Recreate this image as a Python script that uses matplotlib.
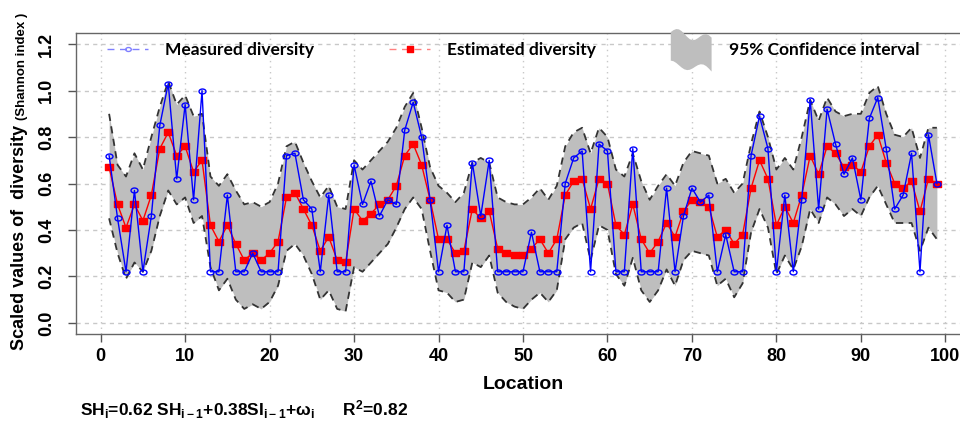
import matplotlib
matplotlib.use("Agg")
import matplotlib.pyplot as plt
import numpy as np
from matplotlib import font_manager
from matplotlib.lines import Line2D
from matplotlib.patches import Patch, Polygon
from matplotlib.path import Path
from matplotlib.transforms import Affine2D
from matplotlib.legend_handler import HandlerPatch

location = list(range(1, 100))

measured = [
    0.72, 0.45, 0.22, 0.57, 0.22, 0.46, 0.85, 1.03, 0.62, 0.94,
    0.53, 1.00, 0.22, 0.22, 0.55, 0.22, 0.22, 0.30, 0.22, 0.22,
    0.22, 0.72, 0.73, 0.53, 0.49, 0.22, 0.55, 0.22, 0.22, 0.68,
    0.51, 0.61, 0.46, 0.53, 0.51, 0.83, 0.95, 0.80, 0.53, 0.22,
    0.42, 0.22, 0.22, 0.69, 0.46, 0.70, 0.22, 0.22, 0.22, 0.22,
    0.39, 0.22, 0.22, 0.22, 0.60, 0.71, 0.74, 0.22, 0.77, 0.74,
    0.22, 0.22, 0.75, 0.22, 0.22, 0.22, 0.58, 0.22, 0.46, 0.58,
    0.52, 0.55, 0.22, 0.38, 0.22, 0.22, 0.72, 0.89, 0.75, 0.22,
    0.55, 0.22, 0.53, 0.96, 0.49, 0.92, 0.77, 0.64, 0.71, 0.53,
    0.88, 0.97, 0.75, 0.49, 0.55, 0.73, 0.22, 0.81, 0.60,
]

estimated = [
    0.67, 0.51, 0.41, 0.51, 0.44, 0.55, 0.75, 0.82, 0.72, 0.76,
    0.65, 0.70, 0.42, 0.35, 0.42, 0.34, 0.27, 0.30, 0.27, 0.30,
    0.35, 0.54, 0.56, 0.49, 0.42, 0.31, 0.37, 0.27, 0.26, 0.49,
    0.44, 0.47, 0.51, 0.53, 0.59, 0.72, 0.77, 0.68, 0.53, 0.36,
    0.36, 0.30, 0.31, 0.49, 0.45, 0.48, 0.32, 0.30, 0.29, 0.29,
    0.32, 0.36, 0.30, 0.36, 0.55, 0.61, 0.62, 0.49, 0.62, 0.60,
    0.42, 0.38, 0.51, 0.36, 0.30, 0.35, 0.43, 0.37, 0.48, 0.53,
    0.52, 0.50, 0.37, 0.40, 0.34, 0.38, 0.58, 0.70, 0.62, 0.42,
    0.50, 0.43, 0.55, 0.72, 0.64, 0.76, 0.73, 0.67, 0.68, 0.65,
    0.76, 0.81, 0.69, 0.60, 0.58, 0.61, 0.48, 0.62, 0.60,
]

ci_upper = [
    0.90, 0.68, 0.63, 0.73, 0.66, 0.80, 0.93, 1.04, 0.94, 0.98,
    0.89, 0.90, 0.63, 0.59, 0.64, 0.57, 0.51, 0.52, 0.50, 0.52,
    0.60, 0.76, 0.78, 0.69, 0.61, 0.54, 0.59, 0.50, 0.49, 0.70,
    0.66, 0.70, 0.74, 0.78, 0.84, 0.93, 0.99, 0.84, 0.67, 0.59,
    0.56, 0.52, 0.56, 0.69, 0.71, 0.69, 0.54, 0.52, 0.51, 0.51,
    0.54, 0.58, 0.53, 0.59, 0.76, 0.82, 0.84, 0.73, 0.84, 0.80,
    0.66, 0.63, 0.73, 0.61, 0.53, 0.59, 0.64, 0.59, 0.69, 0.74,
    0.73, 0.72, 0.60, 0.62, 0.56, 0.60, 0.77, 0.91, 0.80, 0.66,
    0.71, 0.66, 0.80, 0.96, 0.87, 0.97, 0.91, 0.89, 0.90, 0.90,
    0.99, 1.02, 0.90, 0.81, 0.80, 0.84, 0.71, 0.84, 0.84,
]

ci_lower = [
    0.45, 0.30, 0.19, 0.26, 0.22, 0.31, 0.46, 0.57, 0.51, 0.54,
    0.43, 0.46, 0.24, 0.14, 0.19, 0.10, 0.06, 0.08, 0.06, 0.09,
    0.16, 0.31, 0.34, 0.29, 0.21, 0.10, 0.14, 0.06, 0.05, 0.24,
    0.22, 0.26, 0.30, 0.34, 0.41, 0.49, 0.54, 0.49, 0.31, 0.14,
    0.13, 0.09, 0.10, 0.26, 0.24, 0.29, 0.13, 0.09, 0.07, 0.06,
    0.10, 0.13, 0.09, 0.14, 0.36, 0.41, 0.43, 0.27, 0.42, 0.40,
    0.21, 0.16, 0.28, 0.14, 0.09, 0.14, 0.23, 0.16, 0.27, 0.31,
    0.30, 0.29, 0.16, 0.19, 0.11, 0.17, 0.39, 0.49, 0.41, 0.21,
    0.29, 0.23, 0.33, 0.49, 0.43, 0.54, 0.51, 0.46, 0.49, 0.46,
    0.54, 0.59, 0.51, 0.43, 0.43, 0.43, 0.31, 0.41, 0.36,
]

x_ticks = list(range(0, 101, 10))
y_ticks = [0.0, 0.2, 0.4, 0.6, 0.8, 1.0, 1.2]

names = {f.name for f in font_manager.fontManager.ttflist}
NARROW = "Liberation Sans Narrow" if "Liberation Sans Narrow" in names else "Liberation Sans"
LEGEND_FONT = "Lato" if "Lato" in names else "DejaVu Sans"

plt.rcParams["mathtext.fontset"] = "custom"
for key in ("rm", "it", "bf", "sf"):
    plt.rcParams[f"mathtext.{key}"] = f"{NARROW}:bold"

# squashed markers, the source image was stretched sideways
circle = Path.unit_circle().transformed(Affine2D().scale(1.4, 1.0))
square = Path([(-1, -1), (1, -1), (1, 1), (-1, 1), (-1, -1)],
              [Path.MOVETO, Path.LINETO, Path.LINETO, Path.LINETO, Path.CLOSEPOLY]).transformed(
    Affine2D().scale(1.2, 1.0))

fig = plt.figure(figsize=(9.6, 4.24), dpi=100)
ax = fig.add_axes([76 / 960, 1 - 334 / 424, 894 / 960, 301 / 424])

ax.set_xlim(-2.92, 102.92)
ax.set_ylim(-0.048, 1.248)

for xt in x_ticks:
    ax.axvline(xt, color="#c8c8c8", lw=1, ls=(0, (1, 3)), zorder=0)
for yt in y_ticks:
    ax.axhline(yt, color="#c8c8c8", lw=1, ls=(0, (3, 3)), zorder=0)

ax.fill_between(location, ci_lower, ci_upper, color="#bebebe", lw=0, zorder=1)
ax.plot(location, ci_upper, color="#333333", lw=1.3, ls=(0, (4, 3)), zorder=2)
ax.plot(location, ci_lower, color="#333333", lw=1.3, ls=(0, (4, 3)), zorder=2)

ax.plot(location, estimated, color="red", lw=1, marker=square, ms=5.5,
        mfc="red", mec="red", zorder=3)
ax.plot(location, measured, color="blue", lw=1, marker=circle, ms=5,
        mfc="none", mec="blue", mew=1, zorder=4)

ax.set_xticks(x_ticks)
ax.set_yticks(y_ticks)
ax.set_xticklabels([str(t) for t in x_ticks], fontfamily=NARROW, fontweight="bold", fontsize=13)
ax.set_yticklabels([f"{t:.1f}" for t in y_ticks], fontfamily=NARROW, fontweight="bold",
                   fontsize=13, rotation=90, va="center")
ax.tick_params(axis="both", direction="out", length=6, width=1, color="#555555", pad=4)
ax.tick_params(axis="y", pad=9)

for sp in ax.spines.values():
    sp.set_color("#666666")
    sp.set_linewidth(1)

ax.set_xlabel("Location", fontfamily="Liberation Sans", fontweight="bold", fontsize=14, labelpad=8)


def ci_glyph(legend, orig_handle, xdescent, ydescent, width, height, fontsize):
    xs = np.linspace(0, width, 16)
    top = height * (1.9 + 0.35 * np.sin(xs / width * 9.0) - 0.6 * (xs / width))
    bot = height * (-0.8 + 0.35 * np.cos(xs / width * 8.0) - 0.5 * (xs / width) ** 2)
    pts = np.vstack([np.column_stack([xs, top]), np.column_stack([xs[::-1], bot[::-1]])])
    return Polygon(pts - [xdescent, ydescent], closed=True)


h_meas = Line2D([], [], color="#7f7fff", lw=1, ls=(0, (5, 4)), marker=circle, ms=4,
                mfc="none", mec="#7f7fff")
h_est = Line2D([], [], color="#ff8080", lw=1, ls=(0, (5, 4)), marker=square, ms=5,
               mfc="red", mec="red")
h_ci = Patch(facecolor="#bebebe", edgecolor="none")

ax.legend([h_meas, h_est, h_ci],
          ["Measured diversity", "Estimated diversity", "95% Confidence interval"],
          loc="center left", bbox_to_anchor=(0.035, 0.943), ncol=3, frameon=False,
          handlelength=2.35, handletextpad=1.0, columnspacing=4.3, borderpad=0,
          borderaxespad=0, prop={"family": LEGEND_FONT, "weight": "bold", "size": 12.5},
          handler_map={Patch: HandlerPatch(patch_func=ci_glyph)})

# y label in two sizes, like the original
t1 = fig.text(28 / 960, 74 / 424, "Scaled values of  diversity ", rotation=90,
              ha="right", va="bottom", fontfamily="Liberation Sans", fontweight="bold", fontsize=13)
fig.canvas.draw()
bb = t1.get_window_extent(renderer=fig.canvas.get_renderer())
fig.text(28 / 960, bb.y1 / fig.bbox.height, "(Shannon index )", rotation=90,
         ha="right", va="bottom", fontfamily="Liberation Sans", fontweight="bold", fontsize=9.5)

fig.text(80 / 960, 1 - 410 / 424,
         r"$SH_{i}$=0.62 $SH_{i-1}$+0.38$SI_{i-1}$+$\omega_{i}$      R$^{2}$=0.82",
         ha="left", va="center", fontfamily=NARROW, fontweight="bold", fontsize=12.5)

fig.savefig("out.png", dpi=100)
